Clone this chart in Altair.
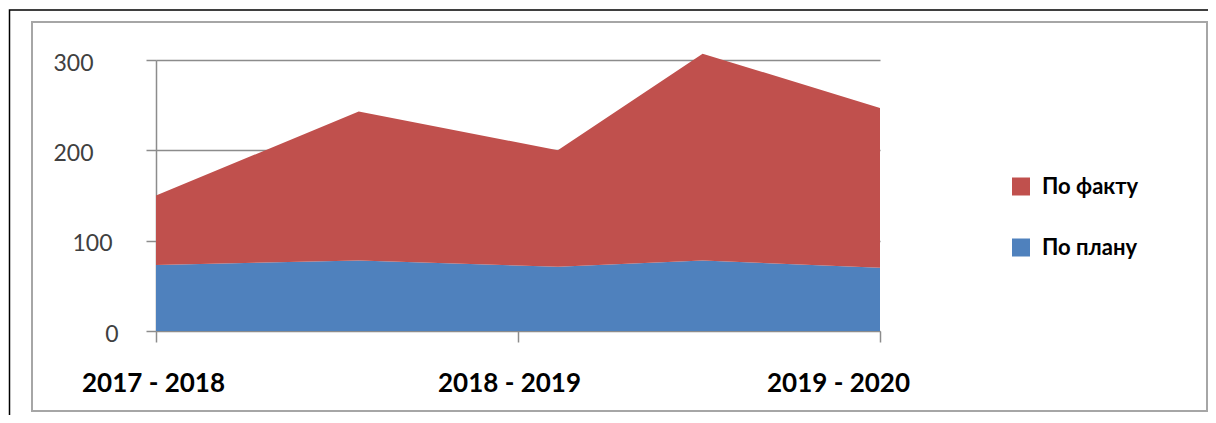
import altair as alt
import pandas as pd

# ---- data ----
periods = ["2017 - 2018", "2018 - 2019", "2019 - 2020"]
t = [0.0, 0.56, 1.11, 1.51, 2.0]          # position along the period axis
plan = [73, 78, 71, 78, 70]               # По плану
fact = [77, 165, 129, 229, 177]           # По факту (stacked on top of plan)
series = ["По факту", "По плану"]
colors = ["#C0504D", "#4F81BD"]
y_ticks = [0, 100, 200, 300]

rows = []
for i, tv in enumerate(t):
    rows.append({"t": tv, "series": "По плану", "value": plan[i], "ord": 0})
    rows.append({"t": tv, "series": "По факту", "value": fact[i], "ord": 1})
df = pd.DataFrame(rows)

W, H = 724, 271
PL, PT = 148, 52
PR = 1200 - PL - W
PB = 407 - PT - H
FONT = "Lato"
GRAY = "#8c8c8c"

label_expr = "[" + ",".join(f"'{p}'" for p in periods) + "][datum.value]"

area = alt.Chart(df).mark_area(interpolate="linear", opacity=1).encode(
    x=alt.X(
        "t:Q",
        scale=alt.Scale(domain=[0, 2], nice=False, zero=False),
        axis=alt.Axis(
            values=[0, 1, 2], labelExpr=label_expr, title=None, grid=False,
            domainColor=GRAY, domainWidth=1, tickColor=GRAY, tickWidth=1.5, tickSize=11,
            labelFont=FONT, labelFontSize=26, labelFontWeight="bold", labelColor="black",
            labelBaseline="top", labelPadding=28, labelFlush=False, labelOverlap=False,
            labelBound=False,
            labelOffset={"condition": [{"test": "datum.value == 1", "value": -9},
                                       {"test": "datum.value == 2", "value": -42}],
                         "value": -3},
        ),
    ),
    y=alt.Y(
        "value:Q", stack="zero",
        scale=alt.Scale(domain=[0, 300], nice=False),
        axis=alt.Axis(
            values=y_ticks, title=None, grid=True, gridColor=GRAY, gridWidth=1.5,
            domainColor=GRAY, domainWidth=1.5, tickColor=GRAY, tickWidth=1.5, tickSize=10,
            labelFont=FONT, labelFontSize=23, labelColor="#404040", labelOffset=3,
            labelPadding={"condition": [{"test": "datum.value == 0", "value": 28},
                                        {"test": "datum.value == 100", "value": 34}],
                          "value": 53},
        ),
    ),
    color=alt.Color(
        "series:N",
        scale=alt.Scale(domain=series, range=colors),
        legend=alt.Legend(
            title=None, orient="none", legendX=854, legendY=115.5,
            symbolType="square", symbolSize=324, symbolStrokeWidth=0, symbolOpacity=1,
            labelFont=FONT, labelFontSize=22, labelFontWeight="bold", labelColor="black",
            rowPadding=39, labelOffset=10, padding=0,
        ),
    ),
    order=alt.Order("ord:Q"),
)

one = alt.Data(values=[{"a": 1}])
gray_frame = alt.Chart(one).mark_rect(filled=False, stroke="#A6A6A6", strokeWidth=2).encode(
    x=alt.value(-124), x2=alt.value(1051), y=alt.value(-38), y2=alt.value(351)
)
black_frame = alt.Chart(one).mark_rect(filled=False, stroke="black", strokeWidth=1.5).encode(
    x=alt.value(-146.5), x2=alt.value(1200), y=alt.value(-50), y2=alt.value(400)
)

chart = alt.layer(black_frame, gray_frame, area).properties(
    width=W, height=H,
    padding={"left": PL, "top": PT, "right": PR, "bottom": PB},
    autosize=alt.AutoSizeParams(type="none"),
    background="white",
).configure_view(strokeWidth=0)

chart.save("out.html", embed_options={"renderer": "svg", "actions": False})
